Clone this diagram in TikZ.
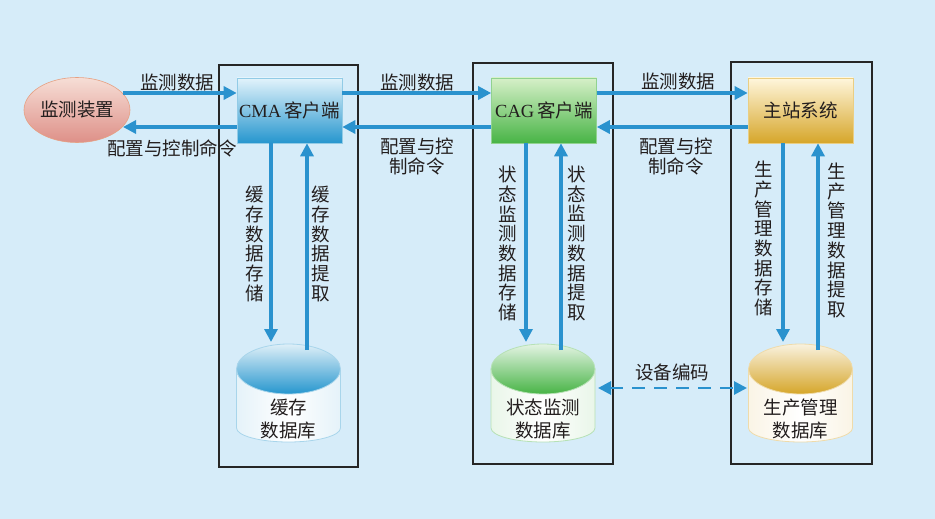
\documentclass[tikz,border=0pt]{standalone}
\usepackage{fontspec}
\setmainfont{Liberation Serif}
\newfontfamily\cjk{Noto Sans CJK SC}
\usetikzlibrary{arrows.meta,shapes.geometric,calc}
\definecolor{bg}{RGB}{214,236,249}
\definecolor{arrc}{RGB}{42,146,206}
\definecolor{txt}{RGB}{35,30,30}
\definecolor{bluetop}{RGB}{226,243,251}
\definecolor{bluebot}{RGB}{38,150,206}
\definecolor{greentop}{RGB}{214,240,200}
\definecolor{greenbot}{RGB}{72,180,70}
\definecolor{goldtop}{RGB}{255,246,220}
\definecolor{goldbot}{RGB}{214,166,42}
\definecolor{pinktop}{RGB}{246,222,214}
\definecolor{pinkbot}{RGB}{222,144,136}
\definecolor{pinkline}{RGB}{230,160,130}
\newcommand\mycyl[6]{%
  \path[left color=#3!12, right color=#3!12, middle color=white, draw=#5, line width=0.8pt]
    (#1-52,369) -- (#1-52,428) arc[start angle=180,end angle=360,x radius=52pt,y radius=14pt] -- (#1+52,369) -- cycle;
  \shade[top color=#3!15, bottom color=#4, draw=#5, line width=0.8pt] (#1,369) ellipse[x radius=52pt, y radius=25pt];
  \node[lbl, align=center, font=\cjk\fontsize{18.5}{23}\selectfont] (#2) at (#1,419) {#6};
}
\begin{document}
\begin{tikzpicture}[x=1pt,y=-1pt,
  lbl/.style={text=txt, inner sep=0pt, font=\cjk\fontsize{18.5}{20}\selectfont},
  vlbl/.style={text=txt, inner sep=0pt, align=center, text width=20pt, font=\cjk\fontsize{18.5}{19.7}\selectfont},
  arr/.style={draw=arrc, line width=3.2pt, -{Triangle[length=13pt,width=13pt]}},
  grp/.style={draw=black!85, line width=1.4pt, inner sep=0pt},
  mainbox/.style={minimum width=105pt, minimum height=65pt, inner sep=0pt, text=txt, line width=0.6pt}
]
\fill[bg] (0,0) rectangle (935,519);
\useasboundingbox (0,0) rectangle (935,519);

% group frames
\node[grp, minimum width=139pt, minimum height=402pt] (g1) at (288.5,266) {};
\node[grp, minimum width=140pt, minimum height=401pt] (g2) at (543,263.5) {};
\node[grp, minimum width=141pt, minimum height=402pt] (g3) at (801.5,263) {};

% sensor ellipse
\node[ellipse, minimum width=106pt, minimum height=65pt, inner sep=0pt, top color=pinktop, bottom color=pinkbot, draw=pinkline, line width=0.6pt, lbl] (sensor) at (77,110) {监测装置};

% main boxes
\node[mainbox, top color=bluetop, bottom color=bluebot, draw=bluebot!50] (cma) at (289.5,110.5) {\fontsize{18.5}{20}\selectfont CMA\,{\cjk 客户端}};
\node[mainbox, top color=greentop, bottom color=greenbot, draw=greenbot!60] (cag) at (544,110.5) {\fontsize{18.5}{20}\selectfont CAG\,{\cjk 客户端}};
\node[mainbox, top color=goldtop, bottom color=goldbot, draw=goldtop!50!goldbot] (zz) at (800.5,110.5) {\cjk\fontsize{18.5}{20}\selectfont 主站系统};

% cylinders
\mycyl{288.5}{db1}{bluebot}{bluebot}{bluebot!40}{缓存\\数据库}
\mycyl{543}{db2}{greenbot}{greenbot}{greenbot!40}{状态监测\\数据库}
\mycyl{800.5}{db3}{goldbot}{goldbot}{goldbot!40}{生产管理\\数据库}

% horizontal rows
\coordinate (rowA) at (0,93);
\coordinate (rowB) at (0,127);
\coordinate (sA) at (123,93);
\coordinate (sB) at (123,127);
\draw[arr] (sA) -- (cma.west |- rowA);
\draw[arr] (cma.west |- rowB) -- (sB);
\draw[arr] (cma.east |- rowA) -- (cag.west |- rowA);
\draw[arr] (cag.west |- rowB) -- (cma.east |- rowB);
\draw[arr] (cag.east |- rowA) -- (zz.west |- rowA);
\draw[arr] (zz.west |- rowB) -- (cag.east |- rowB);

% vertical arrows
\coordinate (dtip) at (0,342);
\coordinate (ustart) at (0,350);
\coordinate (x1) at (271,0); \coordinate (x2) at (307,0);
\coordinate (x3) at (526,0); \coordinate (x4) at (561,0);
\coordinate (x5) at (783,0); \coordinate (x6) at (818,0);
\draw[arr] (x1 |- cma.south) -- (x1 |- dtip);
\draw[arr] (x2 |- ustart) -- (x2 |- cma.south);
\draw[arr] (x3 |- cag.south) -- (x3 |- dtip);
\draw[arr] (x4 |- ustart) -- (x4 |- cag.south);
\draw[arr] (x5 |- zz.south) -- (x5 |- dtip);
\draw[arr] (x6 |- ustart) -- (x6 |- zz.south);

% dashed link
\coordinate (dl) at (598,388);
\coordinate (dr) at (747,388);
\draw[draw=arrc, line width=2.8pt, dash pattern=on 13pt off 9pt, {Triangle[length=13pt,width=13pt]}-{Triangle[length=13pt,width=13pt]}] (dl) -- (dr);

% labels
\node[lbl] (l1) at (177,82) {监测数据};
\node[lbl] (l2) at (172,148) {配置与控制命令};
\node[lbl] (l3) at (417,82) {监测数据};
\node[lbl, align=center] (l4) at (417,157) {配置与控\\制命令};
\node[lbl] (l5) at (678,81) {监测数据};
\node[lbl, align=center] (l6) at (676,157) {配置与控\\制命令};
\node[lbl] (l7) at (672,372) {设备编码};

\node[vlbl] (v1) at (255,244) {缓\\存\\数\\据\\存\\储};
\node[vlbl] (v2) at (321,244) {缓\\存\\数\\据\\提\\取};
\node[vlbl] (v3) at (508,243.5) {状\\态\\监\\测\\数\\据\\存\\储};
\node[vlbl] (v4) at (577,243.5) {状\\态\\监\\测\\数\\据\\提\\取};
\node[vlbl] (v5) at (764,238.5) {生\\产\\管\\理\\数\\据\\存\\储};
\node[vlbl] (v6) at (837,240.5) {生\\产\\管\\理\\数\\据\\提\\取};
\end{tikzpicture}
\end{document}
